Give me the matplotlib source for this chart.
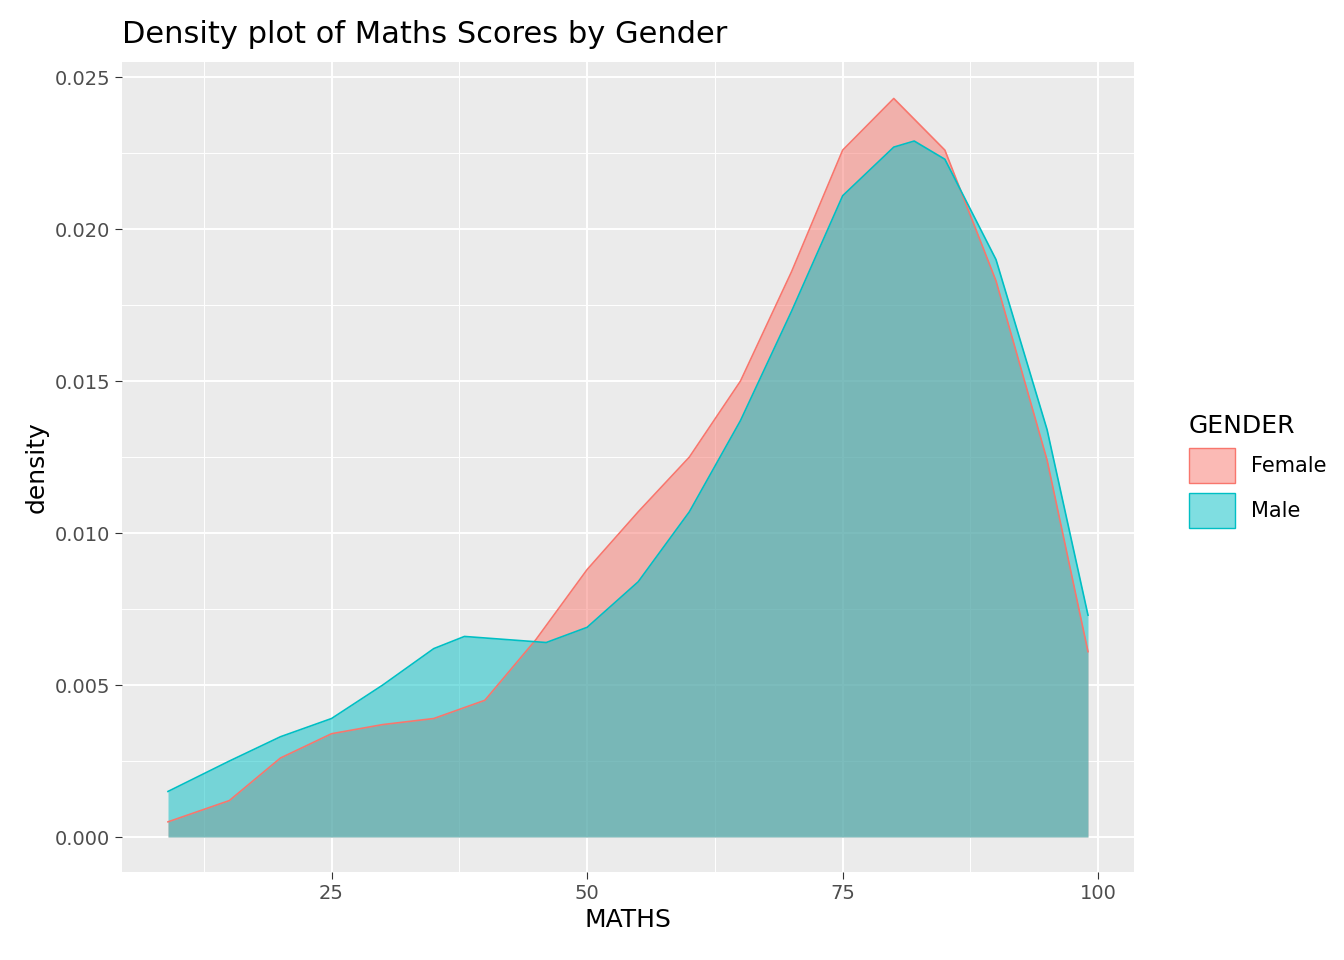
import matplotlib.pyplot as plt
import numpy as np

maths_f = [9, 15, 20, 25, 30, 35, 40, 45, 50, 55, 60, 65, 70, 75, 80, 85, 90, 95, 99]
dens_f = [0.0005, 0.0012, 0.0026, 0.0034, 0.0037, 0.0039, 0.0045, 0.0065, 0.0088, 0.0107,
          0.0125, 0.0150, 0.0186, 0.0226, 0.0243, 0.0226, 0.0183, 0.0124, 0.0061]
maths_m = [9, 15, 20, 25, 30, 35, 38, 42, 46, 50, 55, 60, 65, 70, 75, 80, 82, 85, 90, 95, 99]
dens_m = [0.0015, 0.0025, 0.0033, 0.0039, 0.0050, 0.0062, 0.0066, 0.0065, 0.0064, 0.0069,
          0.0084, 0.0107, 0.0137, 0.0173, 0.0211, 0.0227, 0.0229, 0.0223, 0.0190, 0.0134, 0.0073]
groups = ["Female", "Male"]
colors = ["#F8766D", "#00BFC4"]

fig = plt.figure(figsize=(13.44, 9.6), dpi=100)
ax = fig.add_axes([122 / 1344, 1 - 872 / 960, (1134 - 122) / 1344, (872 - 62) / 960])
ax.set_facecolor("#EBEBEB")
for s in ax.spines.values():
    s.set_visible(False)

for xs, ys, c, lab in [(maths_f, dens_f, colors[0], groups[0]), (maths_m, dens_m, colors[1], groups[1])]:
    ax.fill_between(xs, 0, ys, color=c, alpha=0.5, linewidth=0, label=lab)
    ax.plot(xs, ys, color=c, lw=1.2)

ax.set_xlim(4.5, 103.5)
ax.set_ylim(-0.00115, 0.0255)
ax.set_xticks([25, 50, 75, 100])
ax.set_xticks([12.5, 37.5, 62.5, 87.5], minor=True)
ax.set_yticks(np.arange(0, 0.0251, 0.005))
ax.set_yticks(np.arange(0.0025, 0.025, 0.005), minor=True)
ax.set_yticklabels([f"{v:.3f}" for v in np.arange(0, 0.0251, 0.005)])
ax.grid(True, which="major", color="white", lw=1.4)
ax.grid(True, which="minor", color="white", lw=0.7)
ax.set_axisbelow(True)
ax.tick_params(which="major", length=5, color="#333333", labelsize=14, labelcolor="#4D4D4D")
ax.tick_params(which="minor", length=0)
ax.set_xlabel("MATHS", fontsize=18)
ax.set_ylabel("density", fontsize=18)
ax.set_title("Density plot of Maths Scores by Gender", fontsize=22, loc="left", x=0, pad=14)

from matplotlib.patches import Patch
handles = [Patch(facecolor=c, edgecolor=c, alpha=0.5, label=g) for c, g in zip(colors, groups)]
handles = [Patch(facecolor=(*plt.matplotlib.colors.to_rgb(c), 0.5), edgecolor=c, label=g) for c, g in zip(colors, groups)]
leg = fig.legend(handles=handles, title="GENDER", loc="upper left", bbox_to_anchor=(1170 / 1344, 1 - 395 / 960),
                 frameon=False, fontsize=15, title_fontsize=18, handlelength=2.2, handleheight=2.2)
leg._legend_box.align = "left"
fig.savefig("out.png", dpi=100)
